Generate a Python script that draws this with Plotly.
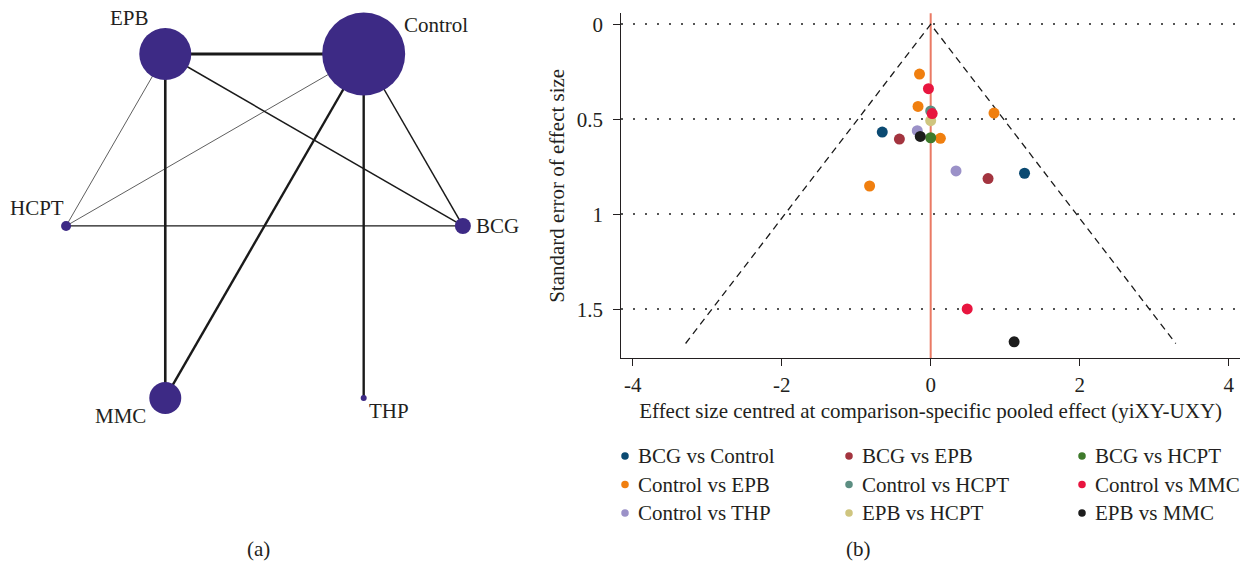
import plotly.graph_objects as go

# ---------------- Network data (panel a) ----------------
nodes = ["EPB", "Control", "HCPT", "BCG", "MMC", "THP"]
node_x = [-1, 1, -2, 2, -1, 1]
node_y = [1, 1, 0, 0, -1, -1]
node_weight = [52, 83, 10, 16, 32, 6]
edge_from = ["EPB", "EPB", "Control", "Control", "EPB", "Control", "HCPT", "EPB", "Control"]
edge_to = ["Control", "MMC", "MMC", "THP", "BCG", "BCG", "BCG", "HCPT", "HCPT"]
edge_weight = [3.2, 2.6, 2.4, 2.4, 1.5, 1.5, 1.3, 0.7, 0.7]

# ---------------- Funnel data (panel b) ----------------
comparisons = ["BCG vs Control", "Control vs EPB", "Control vs THP",
               "BCG vs EPB", "Control vs HCPT", "EPB vs HCPT",
               "BCG vs HCPT", "Control vs MMC", "EPB vs MMC"]
comp_colors = ["#0b4a72", "#f07f0f", "#9b91c8",
               "#a3343f", "#5c8e82", "#cfc57f",
               "#3e7a2b", "#e8153f", "#1c1c1c"]
effect_x = {
    "BCG vs Control": [-0.65, 1.26],
    "Control vs EPB": [-0.15, -0.17, 0.85, 0.13, -0.82],
    "Control vs THP": [-0.18, 0.34],
    "BCG vs EPB": [-0.42, 0.77],
    "Control vs HCPT": [0.0],
    "EPB vs HCPT": [0.0],
    "BCG vs HCPT": [0.0],
    "Control vs MMC": [-0.03, 0.02, 0.49],
    "EPB vs MMC": [-0.14, 1.12],
}
std_err = {
    "BCG vs Control": [0.567, 0.784],
    "Control vs EPB": [0.262, 0.432, 0.467, 0.600, 0.851],
    "Control vs THP": [0.560, 0.772],
    "BCG vs EPB": [0.604, 0.812],
    "Control vs HCPT": [0.456],
    "EPB vs HCPT": [0.507],
    "BCG vs HCPT": [0.597],
    "Control vs MMC": [0.339, 0.470, 1.498],
    "EPB vs MMC": [0.590, 1.671],
}
funnel_x = [-3.29, 0, 3.29]
funnel_y = [1.68, 0, 1.68]
x_ticks = [-4, -2, 0, 2, 4]
x_ticklabels = ["-4", "-2", "0", "2", "4"]
y_ticks = [0, 0.5, 1, 1.5]
y_ticklabels = ["0", "0.5", "1", "1.5"]

FONT = "Liberation Serif"
FS = 21
TXT = "#231f20"
NODE_COLOR = "#3d2a85"
W, H = 1248, 567

fig = go.Figure()

# ---- network edges
pos = {n: (x, y) for n, x, y in zip(nodes, node_x, node_y)}
for a, b, w in zip(edge_from, edge_to, edge_weight):
    fig.add_trace(go.Scatter(
        x=[pos[a][0], pos[b][0]], y=[pos[a][1], pos[b][1]],
        mode="lines", line=dict(color="#1a1a1a", width=w),
        xaxis="x2", yaxis="y2", showlegend=False, hoverinfo="skip"))

# ---- network nodes
fig.add_trace(go.Scatter(
    x=node_x, y=node_y, mode="markers",
    marker=dict(size=node_weight, color=NODE_COLOR, opacity=1, line=dict(width=0)),
    xaxis="x2", yaxis="y2", showlegend=False, text=nodes, hoverinfo="text"))

label_shift = {"EPB": (-36, 36), "Control": (72, 29), "HCPT": (-29, 18),
               "BCG": (35, 0), "MMC": (-45, -18), "THP": (25, -13)}
for n in nodes:
    dx, dy = label_shift[n]
    fig.add_annotation(x=pos[n][0], y=pos[n][1], xref="x2", yref="y2",
                       text=n, showarrow=False, xshift=dx, yshift=dy,
                       xanchor="center", yanchor="middle",
                       font=dict(family=FONT, size=FS, color=TXT))

# ---- funnel: reference line and pseudo-CI
fig.add_shape(type="line", xref="x", yref="y domain", x0=0, x1=0, y0=0, y1=1,
              line=dict(color="#ea7a64", width=2), layer="below")
fig.add_trace(go.Scatter(x=funnel_x, y=funnel_y, mode="lines",
                         line=dict(color="#1a1a1a", width=1.3, dash="7px,5px"),
                         showlegend=False, hoverinfo="skip"))

for comp, col in zip(comparisons, comp_colors):
    fig.add_trace(go.Scatter(
        x=effect_x[comp], y=std_err[comp], mode="markers", name=comp,
        marker=dict(size=11, color=col, line=dict(width=0)),
        showlegend=False))

# ---- legend key (3 columns x 3 rows) drawn on a pixel-space overlay axis
col_px = [625, 849, 1082]
row_px = [456, 484.5, 513]
for i, (comp, col) in enumerate(zip(comparisons, comp_colors)):
    cx, ry = col_px[i // 3], row_px[i % 3]
    fig.add_trace(go.Scatter(
        x=[cx], y=[ry], mode="markers", marker=dict(size=7.5, color=col),
        xaxis="x3", yaxis="y3", showlegend=False, hoverinfo="skip"))
    fig.add_annotation(x=cx + 11, y=ry, xref="x3", yref="y3", text=comp,
                       showarrow=False, xanchor="left", yanchor="middle",
                       font=dict(family=FONT, size=FS, color=TXT))

def px_x(p):
    return p / W
def px_y(p):
    return 1 - p / H

fig.update_layout(
    width=W, height=H,
    margin=dict(l=0, r=0, t=0, b=0, autoexpand=False),
    paper_bgcolor="white", plot_bgcolor="rgba(0,0,0,0)",
    font=dict(family=FONT, size=FS, color=TXT),
    showlegend=False,
    xaxis=dict(domain=[px_x(621.3), px_x(1240)], range=[-4.153, 4.152],
               tickvals=x_ticks, ticktext=x_ticklabels, ticks="outside",
               ticklen=7, tickwidth=1.2,
               tickcolor="#231f20", showline=True, linecolor="#231f20",
               linewidth=1.3, showgrid=False, zeroline=False, automargin=False,
               tickfont=dict(family=FONT, size=FS, color=TXT),
               title=dict(text="Effect size centred at comparison-specific pooled effect (yiXY-UXY)",
                          font=dict(family=FONT, size=FS, color=TXT), standoff=7)),
    yaxis=dict(domain=[px_y(358.3), px_y(13.3)], range=[1.758, -0.058],
               tickvals=y_ticks, ticktext=y_ticklabels, ticks="outside",
               ticklen=7, tickwidth=1.2, tickcolor="#231f20",
               showline=True, linecolor="#231f20", linewidth=1.3,
               showgrid=True, gridcolor="#555555", gridwidth=1.5,
               griddash="1.5px,10.5px", zeroline=False, automargin=False,
               ticklabelstandoff=6,
               tickfont=dict(family=FONT, size=FS, color=TXT),
               title=dict(text="Standard error of effect size",
                          font=dict(family=FONT, size=FS, color=TXT), standoff=6)),
    xaxis2=dict(domain=[0, px_x(599)], range=[-2.666, 3.372], visible=False,
                anchor="y2"),
    yaxis2=dict(domain=[0, 1], range=[-1.983, 1.314], visible=False,
                anchor="x2"),
    xaxis3=dict(domain=[0, 1], range=[0, W], visible=False, anchor="y3"),
    yaxis3=dict(domain=[0, 1], range=[H, 0], visible=False, anchor="x3"),
)

fig.add_annotation(x=px_x(258), y=px_y(549), xref="paper", yref="paper",
                   text="(a)", showarrow=False, xanchor="center", yanchor="middle",
                   font=dict(family=FONT, size=FS, color=TXT))
fig.add_annotation(x=px_x(858), y=px_y(549), xref="paper", yref="paper",
                   text="(b)", showarrow=False, xanchor="center", yanchor="middle",
                   font=dict(family=FONT, size=FS, color=TXT))

fig.write_html("out.html", config={"displayModeBar": False},
               post_script="document.body.style.margin='0px';document.body.style.padding='0px';")
